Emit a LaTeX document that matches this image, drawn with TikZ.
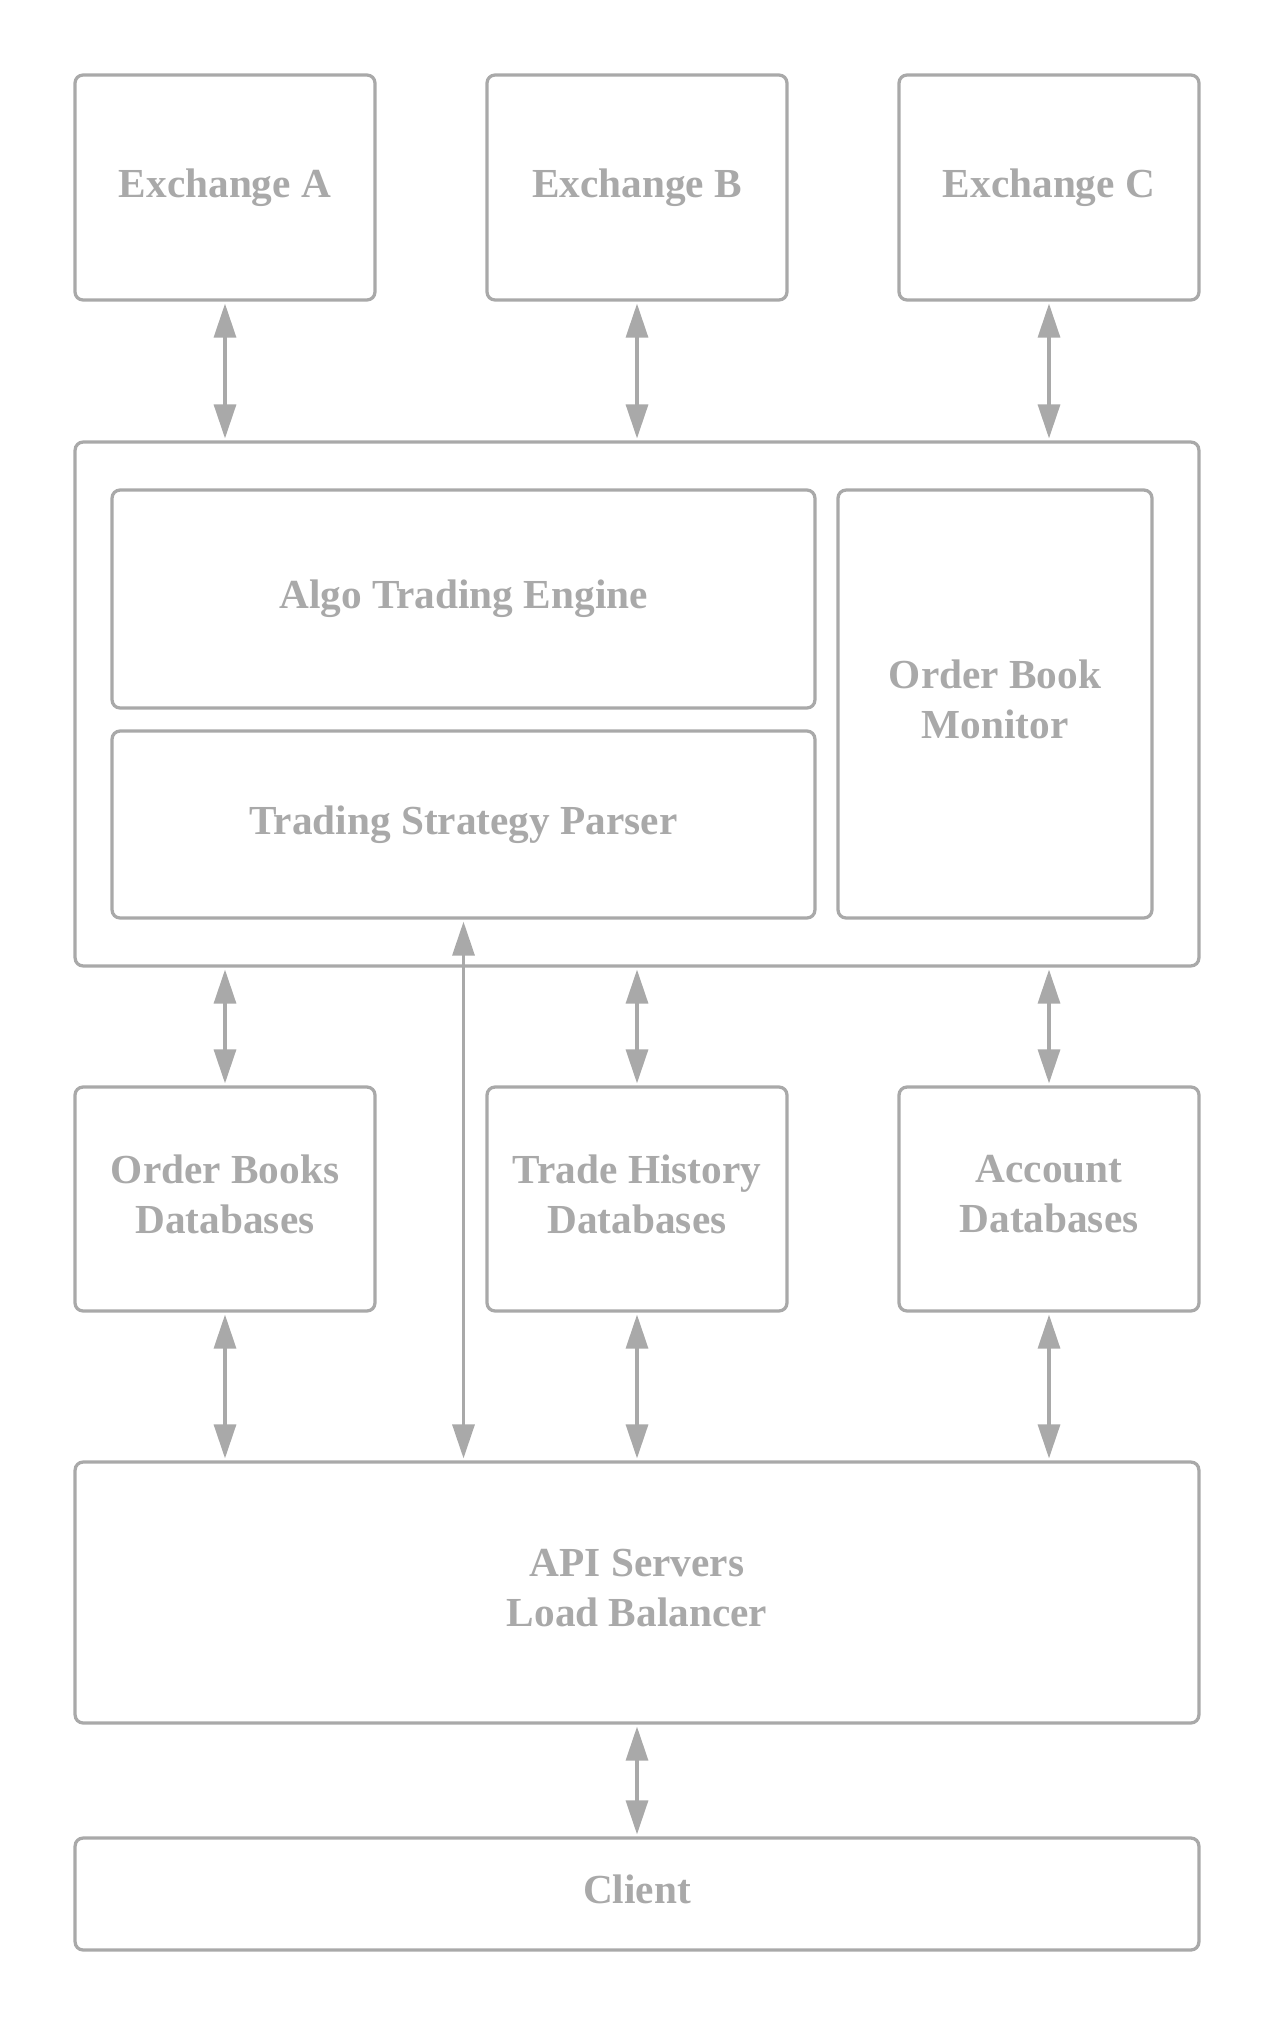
\documentclass[tikz,border=0pt]{standalone}
\usepackage{fontspec}
\setmainfont{Liberation Serif}
\usetikzlibrary{arrows.meta}
\definecolor{boxgray}{HTML}{A9A9A9}

\begin{document}
\begin{tikzpicture}
    [x=0.02cm,y=-0.02cm,
     every node/.style={draw=boxgray,line width=0.065cm,rounded corners=0.16cm,
       text=boxgray,font=\fontsize{23.5}{28.5}\selectfont\bfseries,align=center,inner sep=0pt,text depth=0.19cm},
     link/.style={draw=boxgray,line width=0.065cm,{Triangle[length=0.68cm,width=0.44cm]}-{Triangle[length=0.68cm,width=0.44cm]},shorten <=0.04cm,shorten >=0.04cm}]
    \useasboundingbox (0,0) rectangle (1275,2025);

    \node[minimum width=6cm,minimum height=4.5cm] (exA) at (225,187.5) {Exchange A};
    \node[minimum width=6cm,minimum height=4.5cm] (exB) at (637,187.5) {Exchange B};
    \node[minimum width=6cm,minimum height=4.5cm] (exC) at (1049,187.5) {Exchange C};

    \node[minimum width=22.48cm,minimum height=10.48cm] (core) at (637,704) {};
    \node[minimum width=14.06cm,minimum height=4.36cm] (algo) at (463.5,599) {Algo Trading Engine};
    \node[minimum width=14.06cm,minimum height=3.74cm] (parser) at (463.5,824.5) {Trading Strategy Parser};
    \node[minimum width=6.28cm,minimum height=8.56cm] (obm) at (995,704) {Order Book\\Monitor};

    \node[minimum width=6cm,minimum height=4.48cm] (dbA) at (225,1199) {Order Books\\Databases};
    \node[minimum width=6cm,minimum height=4.48cm] (dbB) at (637,1199) {Trade History\\Databases};
    \node[minimum width=6cm,minimum height=4.48cm] (dbC) at (1049,1199) {Account\\Databases};

    \node[minimum width=22.48cm,minimum height=5.22cm] (api) at (637,1592.5) {API Servers\\Load Balancer};
    \node[minimum width=22.48cm,minimum height=2.24cm] (client) at (637,1894) {Client};

    \draw [link] (exA.south) -- (exA.south |- core.north);
    \draw [link] (exB.south) -- (exB.south |- core.north);
    \draw [link] (exC.south) -- (exC.south |- core.north);

    \draw [link] (dbA.north |- core.south) -- (dbA.north);
    \draw [link] (dbB.north |- core.south) -- (dbB.north);
    \draw [link] (dbC.north |- core.south) -- (dbC.north);

    \draw [link] (dbA.south) -- (dbA.south |- api.north);
    \draw [link] (parser.south) -- (parser.south |- api.north);
    \draw [link] (dbB.south) -- (dbB.south |- api.north);
    \draw [link] (dbC.south) -- (dbC.south |- api.north);

    \draw [link] (api.south) -- (client.north);
  \end{tikzpicture}
\end{document}
